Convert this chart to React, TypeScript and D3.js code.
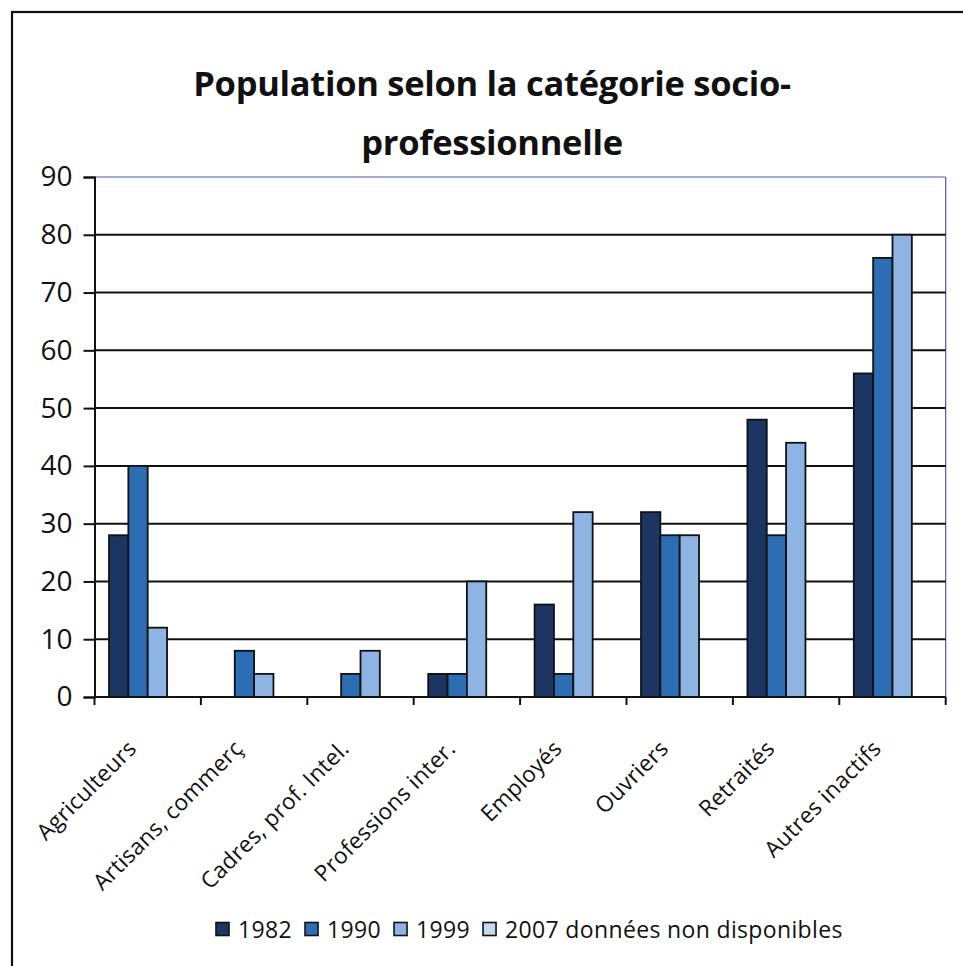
import React, { useEffect, useRef } from "react";
import * as d3 from "d3";

const categories = [
  "Agriculteurs",
  "Artisans, commerç",
  "Cadres, prof. Intel.",
  "Professions inter.",
  "Employés",
  "Ouvriers",
  "Retraités",
  "Autres inactifs",
];
const seriesNames = ["1982", "1990", "1999", "2007 données non disponibles"];
const values1982 = [28, 0, 0, 4, 16, 32, 48, 56];
const values1990 = [40, 8, 4, 4, 4, 28, 28, 76];
const values1999 = [12, 4, 8, 20, 32, 28, 44, 80];
const values2007: (number | null)[] = [null, null, null, null, null, null, null, null];
const seriesValues = [values1982, values1990, values1999, values2007];
const seriesColors = ["#1d3563", "#2d6db3", "#8db4e2", "#c6d9f1"];
const yTicks = [0, 10, 20, 30, 40, 50, 60, 70, 80, 90];
const titleLines = ["Population selon la catégorie socio-", "professionnelle"];

const W = 963;
const H = 966;
const FONT = "'Open Sans', 'Noto Sans', sans-serif";

export default function App() {
  const ref = useRef<SVGSVGElement | null>(null);

  useEffect(() => {
    const svg = d3.select(ref.current);
    svg.selectAll("*").remove();

    const left = 94.5, right = 945.7, top = 177, bottom = 697;

    const x = d3.scaleBand<string>().domain(categories).range([left, right]).paddingInner(0).paddingOuter(0);
    const xs = d3.scaleBand<string>().domain(seriesNames).range([0, x.bandwidth()]).paddingInner(0).paddingOuter(0.75);
    const y = d3.scaleLinear().domain([0, 90]).range([bottom, top]);

    svg.append("rect").attr("width", W).attr("height", H).attr("fill", "#ffffff");

    // outer chart frame
    svg.append("rect")
      .attr("x", 12).attr("y", 12).attr("width", 1000).attr("height", 1000)
      .attr("fill", "none").attr("stroke", "#111").attr("stroke-width", 2.2);

    // title
    const title = svg.append("g");
    titleLines.forEach((t, i) => {
      title.append("text")
        .attr("x", 492).attr("y", 96 + i * 59)
        .attr("text-anchor", "middle")
        .attr("font-family", FONT)
        .attr("font-weight", "bold")
        .attr("font-size", 34.5)
        .attr("letter-spacing", -0.3)
        .attr("fill", "#111")
        .text(t);
    });

    // plot border (top & right, bluish)
    svg.append("line").attr("x1", left).attr("x2", right).attr("y1", top).attr("y2", top)
      .attr("stroke", "#4a56a0").attr("stroke-width", 1.2);
    svg.append("line").attr("x1", right).attr("x2", right).attr("y1", top).attr("y2", bottom)
      .attr("stroke", "#4a56a0").attr("stroke-width", 1.2);

    // gridlines
    svg.append("g").selectAll("line")
      .data(yTicks.filter((v) => v > 0 && v < 90))
      .join("line")
      .attr("x1", left).attr("x2", right)
      .attr("y1", (d) => y(d)).attr("y2", (d) => y(d))
      .attr("stroke", "#111").attr("stroke-width", 2);

    // bars
    const groups = svg.append("g").selectAll("g")
      .data(categories)
      .join("g")
      .attr("transform", (c) => `translate(${x(c)},0)`);
    groups.selectAll("rect")
      .data((c, ci) => seriesNames.map((s, si) => ({ s, si, v: seriesValues[si][ci] })).filter((d) => d.v != null && (d.v as number) > 0))
      .join("rect")
      .attr("x", (d) => xs(d.s) as number)
      .attr("width", xs.bandwidth())
      .attr("y", (d) => y(d.v as number))
      .attr("height", (d) => y(0) - y(d.v as number))
      .attr("fill", (d) => seriesColors[d.si])
      .attr("stroke", "#111").attr("stroke-width", 1.8);

    // y axis
    const yAxis = svg.append("g").attr("transform", `translate(${left},0)`)
      .call(d3.axisLeft(y).tickValues(yTicks).tickSize(11).tickPadding(11).tickFormat((d) => String(d)));
    yAxis.select(".domain").attr("stroke", "#111").attr("stroke-width", 2);
    yAxis.selectAll(".tick line").attr("stroke", "#111").attr("stroke-width", 2);
    yAxis.selectAll(".tick text")
      .attr("font-family", FONT).attr("font-size", 28).attr("fill", "#111");

    // x axis line & ticks at category boundaries
    svg.append("line").attr("x1", left).attr("x2", right).attr("y1", bottom).attr("y2", bottom)
      .attr("stroke", "#111").attr("stroke-width", 2);
    const bounds = categories.map((c) => x(c) as number).concat([right]);
    svg.append("g").selectAll("line")
      .data(bounds)
      .join("line")
      .attr("x1", (d) => d).attr("x2", (d) => d)
      .attr("y1", bottom).attr("y2", bottom + 8)
      .attr("stroke", "#111").attr("stroke-width", 2);

    // x labels
    svg.append("g").selectAll("text")
      .data(categories)
      .join("text")
      .attr("transform", (c) => `translate(${(x(c) as number) + x.bandwidth() / 2 - 10},${bottom + 53}) rotate(-45)`)
      .attr("text-anchor", "end")
      .attr("font-family", FONT).attr("font-size", 22.5).attr("letter-spacing", 0.3).attr("fill", "#111")
      .text((c) => c);

    // legend
    const legend = svg.append("g");
    const items = legend.selectAll("g").data(seriesNames).join("g");
    items.append("rect")
      .attr("width", 13).attr("height", 13)
      .attr("y", -7.5)
      .attr("fill", (d, i) => seriesColors[i])
      .attr("stroke", "#111").attr("stroke-width", 1.6);
    items.append("text")
      .attr("x", 22).attr("y", 0)
      .attr("dy", "0.36em")
      .attr("font-family", FONT).attr("font-size", 23).attr("letter-spacing", 0.35).attr("fill", "#111")
      .text((d) => d);
    let cx = 216;
    items.each(function () {
      const g = d3.select(this);
      g.attr("transform", `translate(${cx},930)`);
      const tw = (g.select("text").node() as SVGTextElement).getComputedTextLength();
      cx += 22 + tw + 13;
    });
  }, []);

  return (
    <svg ref={ref} width={W} height={H} style={{ display: "block", position: "absolute", left: 0, top: 0 }} />
  );
}
